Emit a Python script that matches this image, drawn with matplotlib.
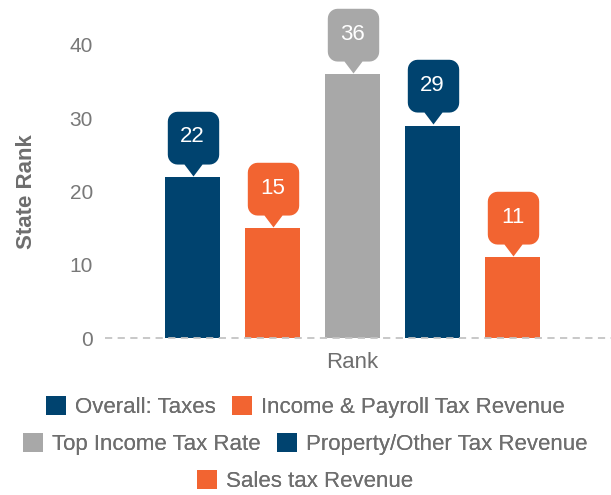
import numpy as np
import matplotlib.pyplot as plt
from matplotlib.path import Path
from matplotlib.patches import Patch

plt.rcParams['font.family'] = ['Liberation Sans', 'DejaVu Sans']

# data
categories = ["Rank"]
series_names = ["Overall: Taxes", "Income & Payroll Tax Revenue",
                "Top Income Tax Rate", "Property/Other Tax Revenue",
                "Sales tax Revenue"]
series_values = [22, 15, 36, 29, 11]
series_colors = ["#00436f", "#f26431", "#a8a8a8", "#00436f", "#f26431"]
y_ticks = [0, 10, 20, 30, 40]

TEXT_GREY = "#6e6e6e"


def callout_path(w=37.0, h=38.0, tri_h=8.6, tri_w=6.5, r=7.0):
    # rounded box with a pointer, tip at the origin (units: points)
    verts = [(0, 0), (tri_w, tri_h)]
    x0, x1 = -w / 2, w / 2
    y0, y1 = tri_h, tri_h + h
    corners = [((x1 - r, y0 + r), -90, 0),
               ((x1 - r, y1 - r), 0, 90),
               ((x0 + r, y1 - r), 90, 180),
               ((x0 + r, y0 + r), 180, 270)]
    for (cx, cy), a0, a1 in corners:
        for a in np.linspace(np.radians(a0), np.radians(a1), 8):
            verts.append((cx + r * np.cos(a), cy + r * np.sin(a)))
    verts.append((-tri_w, tri_h))
    verts.append((0, 0))
    codes = [Path.MOVETO] + [Path.LINETO] * (len(verts) - 2) + [Path.CLOSEPOLY]
    verts = np.array(verts)
    scale = np.max(np.abs(verts))
    return Path(verts, codes), scale


fig = plt.figure(figsize=(6.11, 4.95), dpi=100)
ax = fig.add_axes([100 / 611, (495 - 338) / 495, 505 / 611, 293 / 495])

n = len(series_values)
step = 80 / 505
width = 55 / 505
x = np.arange(len(categories))
marker, mscale = callout_path()

for i, (name, val, col) in enumerate(zip(series_names, series_values, series_colors)):
    xpos = x[0] + (i - (n - 1) / 2) * step
    ax.bar(xpos, val, width=width, color=col, label=name, zorder=2)
    ax.plot(xpos, val + 0.15, marker=marker, markersize=2 * mscale,
            color=col, markeredgewidth=0, clip_on=False, zorder=3)
    ax.annotate(str(val), (xpos, val + 0.15), xytext=(0, 28),
                textcoords="offset points", ha="center", va="center",
                color="white", fontsize=16, zorder=4, annotation_clip=False)

ax.set_xlim(-0.5, 0.5)
ax.set_ylim(0, 40)
ax.set_yticks(y_ticks)
ax.set_xticks(x)
ax.set_xticklabels(categories)
# dashed baseline, drawn over the bars
ax.plot([0.01, 1.02], [0, 0], transform=ax.get_yaxis_transform(),
        color="#c4c4c4", linestyle=(0, (4, 3)), linewidth=1.3,
        zorder=5, clip_on=False)
for s in ax.spines.values():
    s.set_visible(False)
ax.tick_params(axis="y", length=0, pad=5, labelsize=15, labelcolor="#787878")
ax.tick_params(axis="x", length=0, pad=10, labelsize=16, labelcolor=TEXT_GREY)
ax.set_ylabel("State Rank", fontsize=16, fontweight="bold", color=TEXT_GREY)
ax.yaxis.set_label_coords(-63 / 505, 0.5)

# legend rows, each centred on its own
rows = [[0, 1], [2, 3], [4]]
row_y = [407, 444, 481]
for idxs, ry in zip(rows, row_y):
    handles = [Patch(facecolor=series_colors[k], edgecolor="none")
               for k in idxs]
    leg = fig.legend(handles, [series_names[k] for k in idxs],
                     loc="center", bbox_to_anchor=(0.5, 1 - ry / 495),
                     ncol=len(idxs), frameon=False, fontsize=16,
                     handlelength=0.9, handleheight=0.9, handletextpad=0.4,
                     columnspacing=0.75, borderpad=0, labelcolor=TEXT_GREY)
    fig.add_artist(leg)

fig.savefig("out.png", dpi=100)
